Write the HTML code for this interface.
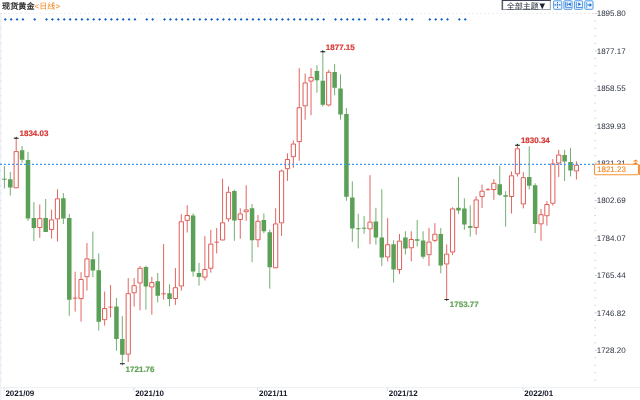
<!DOCTYPE html>
<html lang="zh"><head><meta charset="utf-8"><title>现货黄金 日线</title>
<style>html,body{margin:0;padding:0;background:#fff;overflow:hidden}svg{display:block}text{text-rendering:geometricPrecision;font-family:"Liberation Sans","Noto Sans CJK SC",sans-serif}.ax{font-size:8px;fill:#2b3040}.xl{font-size:8px;font-weight:bold;fill:#15182a}.mk{font-size:8px;font-weight:bold;stroke-width:0.2px}</style></head><body>
<svg width="640" height="400" viewBox="0 0 640 400">
<rect width="640" height="400" fill="#fff"/>
<text x="2.1" y="9.4" font-size="8.1" fill="#1c1c1c" stroke="#1c1c1c" stroke-width="0.25">现货黄金<tspan fill="#f5861f" stroke="none">&lt;日线&gt;</tspan></text>
<path d="M0 13.5H595" stroke="#e8ebef" stroke-width="0.8" stroke-dasharray="2 2" fill="none"/>
<path d="M594.6 13.50h2.8M594.5 20.98h1.5M594.5 28.47h1.5M594.5 35.95h1.5M594.5 43.44h1.5M594.6 50.92h2.8M594.5 58.40h1.5M594.5 65.89h1.5M594.5 73.37h1.5M594.5 80.86h1.5M594.6 88.34h2.8M594.5 95.82h1.5M594.5 103.31h1.5M594.5 110.79h1.5M594.5 118.28h1.5M594.6 125.76h2.8M594.5 133.24h1.5M594.5 140.73h1.5M594.5 148.21h1.5M594.5 155.70h1.5M594.6 163.18h2.8M594.5 170.66h1.5M594.5 178.15h1.5M594.5 185.63h1.5M594.5 193.12h1.5M594.6 200.60h2.8M594.5 208.08h1.5M594.5 215.57h1.5M594.5 223.05h1.5M594.5 230.54h1.5M594.6 238.02h2.8M594.5 245.50h1.5M594.5 252.99h1.5M594.5 260.47h1.5M594.5 267.96h1.5M594.6 275.44h2.8M594.5 282.92h1.5M594.5 290.41h1.5M594.5 297.89h1.5M594.5 305.38h1.5M594.6 312.86h2.8M594.5 320.34h1.5M594.5 327.83h1.5M594.5 335.31h1.5M594.5 342.80h1.5M594.6 350.28h2.8M594.5 357.76h1.5M594.5 365.25h1.5M594.5 372.73h1.5M594.5 380.22h1.5" stroke="#cdd1da" stroke-width="1" fill="none"/>
<rect x="0" y="13" width="1.4" height="387" fill="#eef2f9"/>
<path d="M0 13.50h1.3M0 20.98h1.3M0 28.47h1.3M0 35.95h1.3M0 43.44h1.3M0 50.92h1.3M0 58.40h1.3M0 65.89h1.3M0 73.37h1.3M0 80.86h1.3M0 88.34h1.3M0 95.82h1.3M0 103.31h1.3M0 110.79h1.3M0 118.28h1.3M0 125.76h1.3M0 133.24h1.3M0 140.73h1.3M0 148.21h1.3M0 155.70h1.3M0 163.18h1.3M0 170.66h1.3M0 178.15h1.3M0 185.63h1.3M0 193.12h1.3M0 200.60h1.3M0 208.08h1.3M0 215.57h1.3M0 223.05h1.3M0 230.54h1.3M0 238.02h1.3M0 245.50h1.3M0 252.99h1.3M0 260.47h1.3M0 267.96h1.3M0 275.44h1.3M0 282.92h1.3M0 290.41h1.3M0 297.89h1.3M0 305.38h1.3M0 312.86h1.3M0 320.34h1.3M0 327.83h1.3M0 335.31h1.3M0 342.80h1.3M0 350.28h1.3M0 357.76h1.3M0 365.25h1.3M0 372.73h1.3M0 380.22h1.3" stroke="#d9deea" stroke-width="1" fill="none"/>
<text class="ax" x="596.7" y="16.25">1895.80</text>
<text class="ax" x="596.7" y="53.67">1877.17</text>
<text class="ax" x="596.7" y="91.09">1858.55</text>
<text class="ax" x="596.7" y="128.51">1839.93</text>
<text class="ax" x="596.7" y="165.93">1821.31</text>
<text class="ax" x="596.7" y="203.35">1802.69</text>
<text class="ax" x="596.7" y="240.77">1784.07</text>
<text class="ax" x="596.7" y="278.19">1765.44</text>
<text class="ax" x="596.7" y="315.61">1746.82</text>
<text class="ax" x="596.7" y="353.03">1728.20</text>
<path d="M5.25 17.95l1.45 1.45l-1.45 1.45l-1.45 -1.45zM11.15 17.95l1.45 1.45l-1.45 1.45l-1.45 -1.45zM17.04 17.95l1.45 1.45l-1.45 1.45l-1.45 -1.45zM22.94 17.95l1.45 1.45l-1.45 1.45l-1.45 -1.45zM34.73 17.95l1.45 1.45l-1.45 1.45l-1.45 -1.45zM46.53 17.95l1.45 1.45l-1.45 1.45l-1.45 -1.45zM52.43 17.95l1.45 1.45l-1.45 1.45l-1.45 -1.45zM58.32 17.95l1.45 1.45l-1.45 1.45l-1.45 -1.45zM64.22 17.95l1.45 1.45l-1.45 1.45l-1.45 -1.45zM70.12 17.95l1.45 1.45l-1.45 1.45l-1.45 -1.45zM76.01 17.95l1.45 1.45l-1.45 1.45l-1.45 -1.45zM81.91 17.95l1.45 1.45l-1.45 1.45l-1.45 -1.45zM87.81 17.95l1.45 1.45l-1.45 1.45l-1.45 -1.45zM93.70 17.95l1.45 1.45l-1.45 1.45l-1.45 -1.45zM99.60 17.95l1.45 1.45l-1.45 1.45l-1.45 -1.45zM105.50 17.95l1.45 1.45l-1.45 1.45l-1.45 -1.45zM111.40 17.95l1.45 1.45l-1.45 1.45l-1.45 -1.45zM117.29 17.95l1.45 1.45l-1.45 1.45l-1.45 -1.45zM123.19 17.95l1.45 1.45l-1.45 1.45l-1.45 -1.45zM129.09 17.95l1.45 1.45l-1.45 1.45l-1.45 -1.45zM134.98 17.95l1.45 1.45l-1.45 1.45l-1.45 -1.45zM146.78 17.95l1.45 1.45l-1.45 1.45l-1.45 -1.45zM152.68 17.95l1.45 1.45l-1.45 1.45l-1.45 -1.45zM164.47 17.95l1.45 1.45l-1.45 1.45l-1.45 -1.45zM170.37 17.95l1.45 1.45l-1.45 1.45l-1.45 -1.45zM176.26 17.95l1.45 1.45l-1.45 1.45l-1.45 -1.45zM182.16 17.95l1.45 1.45l-1.45 1.45l-1.45 -1.45zM188.06 17.95l1.45 1.45l-1.45 1.45l-1.45 -1.45zM193.95 17.95l1.45 1.45l-1.45 1.45l-1.45 -1.45zM199.85 17.95l1.45 1.45l-1.45 1.45l-1.45 -1.45zM205.75 17.95l1.45 1.45l-1.45 1.45l-1.45 -1.45zM211.65 17.95l1.45 1.45l-1.45 1.45l-1.45 -1.45zM217.54 17.95l1.45 1.45l-1.45 1.45l-1.45 -1.45zM223.44 17.95l1.45 1.45l-1.45 1.45l-1.45 -1.45zM229.34 17.95l1.45 1.45l-1.45 1.45l-1.45 -1.45zM235.23 17.95l1.45 1.45l-1.45 1.45l-1.45 -1.45zM241.13 17.95l1.45 1.45l-1.45 1.45l-1.45 -1.45zM247.03 17.95l1.45 1.45l-1.45 1.45l-1.45 -1.45zM252.92 17.95l1.45 1.45l-1.45 1.45l-1.45 -1.45zM258.82 17.95l1.45 1.45l-1.45 1.45l-1.45 -1.45zM264.72 17.95l1.45 1.45l-1.45 1.45l-1.45 -1.45zM270.62 17.95l1.45 1.45l-1.45 1.45l-1.45 -1.45zM276.51 17.95l1.45 1.45l-1.45 1.45l-1.45 -1.45zM282.41 17.95l1.45 1.45l-1.45 1.45l-1.45 -1.45zM288.31 17.95l1.45 1.45l-1.45 1.45l-1.45 -1.45zM294.20 17.95l1.45 1.45l-1.45 1.45l-1.45 -1.45zM300.10 17.95l1.45 1.45l-1.45 1.45l-1.45 -1.45zM306.00 17.95l1.45 1.45l-1.45 1.45l-1.45 -1.45zM311.89 17.95l1.45 1.45l-1.45 1.45l-1.45 -1.45zM317.79 17.95l1.45 1.45l-1.45 1.45l-1.45 -1.45zM323.69 17.95l1.45 1.45l-1.45 1.45l-1.45 -1.45zM335.48 17.95l1.45 1.45l-1.45 1.45l-1.45 -1.45zM341.38 17.95l1.45 1.45l-1.45 1.45l-1.45 -1.45zM347.28 17.95l1.45 1.45l-1.45 1.45l-1.45 -1.45zM353.17 17.95l1.45 1.45l-1.45 1.45l-1.45 -1.45zM359.07 17.95l1.45 1.45l-1.45 1.45l-1.45 -1.45zM364.97 17.95l1.45 1.45l-1.45 1.45l-1.45 -1.45zM376.76 17.95l1.45 1.45l-1.45 1.45l-1.45 -1.45zM382.66 17.95l1.45 1.45l-1.45 1.45l-1.45 -1.45zM388.56 17.95l1.45 1.45l-1.45 1.45l-1.45 -1.45zM400.35 17.95l1.45 1.45l-1.45 1.45l-1.45 -1.45zM406.25 17.95l1.45 1.45l-1.45 1.45l-1.45 -1.45zM412.14 17.95l1.45 1.45l-1.45 1.45l-1.45 -1.45zM429.83 17.95l1.45 1.45l-1.45 1.45l-1.45 -1.45zM435.73 17.95l1.45 1.45l-1.45 1.45l-1.45 -1.45zM441.63 17.95l1.45 1.45l-1.45 1.45l-1.45 -1.45zM447.53 17.95l1.45 1.45l-1.45 1.45l-1.45 -1.45zM459.32 17.95l1.45 1.45l-1.45 1.45l-1.45 -1.45zM465.22 17.95l1.45 1.45l-1.45 1.45l-1.45 -1.45z" fill="#0f60c2"/>
<path d="M0 387.7H640" stroke="#e9eef1" stroke-width="1" fill="none"/>
<path d="M4.10 387.7v3.2" stroke="#d5dbe6" stroke-width="1"/>
<text class="xl" x="5.40" y="396.1">2021/09</text>
<path d="M133.83 387.7v3.2" stroke="#d5dbe6" stroke-width="1"/>
<text class="xl" x="135.13" y="396.1">2021/10</text>
<path d="M257.67 387.7v3.2" stroke="#d5dbe6" stroke-width="1"/>
<text class="xl" x="258.97" y="396.1">2021/11</text>
<path d="M387.40 387.7v3.2" stroke="#d5dbe6" stroke-width="1"/>
<text class="xl" x="388.70" y="396.1">2021/12</text>
<path d="M523.04 387.7v3.2" stroke="#d5dbe6" stroke-width="1"/>
<text class="xl" x="524.34" y="396.1">2022/01</text>
<path d="M4.40 166.00V188.50M10.30 171.90V195.60M22.09 146.00V162.80M27.99 151.90V221.00M33.88 202.20V241.00M45.68 199.00V231.90M63.37 193.10V224.00M69.27 213.90V315.80M92.86 231.60V277.20M98.75 253.40V330.60M116.44 298.00V350.70M122.34 316.20V363.60M145.93 265.80V309.70M157.72 273.00V302.40M169.52 284.40V306.30M193.10 213.40V276.60M199.00 262.80V285.60M234.38 189.70V240.80M252.07 204.00V262.20M263.87 213.40V233.30M269.76 229.70V288.60M316.94 65.20V92.75M322.84 51.10V106.50M334.63 64.05V95.25M340.53 74.25V119.75M346.43 108.10V200.75M352.32 181.40V241.90M358.22 213.75V248.40M364.12 216.10V233.75M375.91 207.80V244.70M381.81 189.20V266.10M393.60 240.30V282.50M405.40 231.25V254.60M417.19 220.00V246.60M423.09 231.25V258.75M440.78 228.00V273.40M458.47 176.90V213.90M464.37 198.30V229.80M470.26 205.30V236.60M499.75 165.90V196.00M505.64 191.25V226.80M529.23 146.30V189.40M535.13 183.25V233.00M564.62 149.80V181.10M570.51 147.80V176.40" stroke="#5aa056" stroke-width="0.85" fill="none"/>
<path d="M2.15 178.70h4.5v1h-4.5zM8.05 179.20h4.5V187.50h-4.5zM19.84 150.30h4.5V159.70h-4.5zM25.74 160.00h4.5V218.60h-4.5zM31.63 218.10h4.5V228.00h-4.5zM43.43 218.10h4.5V231.90h-4.5zM61.12 198.30h4.5V218.60h-4.5zM67.02 218.10h4.5V299.70h-4.5zM90.61 259.20h4.5V270.60h-4.5zM96.50 270.20h4.5V321.70h-4.5zM114.19 306.40h4.5V339.00h-4.5zM120.09 339.10h4.5V354.70h-4.5zM143.68 266.90h4.5V286.60h-4.5zM155.47 281.20h4.5V295.80h-4.5zM167.27 293.20h4.5V298.90h-4.5zM190.85 215.50h4.5V271.60h-4.5zM196.75 273.10h4.5V276.90h-4.5zM232.13 191.00h4.5V220.50h-4.5zM249.82 208.30h4.5V240.30h-4.5zM261.62 220.00h4.5V231.25h-4.5zM267.51 232.20h4.5V267.20h-4.5zM314.69 71.10h4.5V80.35h-4.5zM320.59 80.85h4.5V104.70h-4.5zM332.38 71.95h4.5V87.75h-4.5zM338.28 88.40h4.5V114.45h-4.5zM344.18 113.90h4.5V196.65h-4.5zM350.07 197.40h4.5V228.60h-4.5zM355.97 228.25h4.5v1h-4.5zM361.87 227.80h4.5v1h-4.5zM373.66 221.60h4.5V237.50h-4.5zM379.56 237.50h4.5V257.50h-4.5zM391.35 244.20h4.5V269.50h-4.5zM403.15 237.50h4.5V248.50h-4.5zM414.94 239.20h4.5V240.70h-4.5zM420.84 240.60h4.5V256.70h-4.5zM438.53 234.10h4.5V265.60h-4.5zM456.22 207.70h4.5V210.50h-4.5zM462.12 208.40h4.5V224.50h-4.5zM468.01 226.10h4.5V227.70h-4.5zM497.50 184.20h4.5V194.70h-4.5zM503.39 195.20h4.5V196.80h-4.5zM526.98 177.00h4.5V185.65h-4.5zM532.88 185.15h4.5V223.90h-4.5zM562.37 155.00h4.5V161.60h-4.5zM568.26 162.00h4.5V170.60h-4.5z" fill="#5aa056"/>
<path d="M16.19 138.60V151.10M39.78 204.50V218.10M39.78 228.00V237.80M51.58 209.70V219.40M51.58 230.00V238.60M57.47 189.20V198.30M57.47 219.40V241.60M75.16 271.70V311.60M72.91 298.10h4.5M81.06 272.20V279.00M81.06 299.10V321.70M86.96 243.10V258.40M86.96 277.20V290.50M104.65 291.60V308.00M104.65 320.20V325.60M110.55 285.00V317.50M108.30 307.10h4.5M128.24 278.10V293.20M128.24 354.70V362.00M134.13 278.10V285.20M134.13 293.30V306.50M140.03 266.00V267.80M140.03 283.50V310.40M151.83 276.80V282.10M151.83 287.50V314.70M163.62 243.90V299.70M161.37 293.80h4.5M175.41 268.00V287.20M175.41 299.00V304.90M181.31 214.20V221.25M181.31 286.50V290.60M187.21 205.20V215.00M187.21 220.90V232.50M204.90 236.10V269.00M204.90 277.70V280.50M210.80 229.80V243.60M210.80 268.75V272.70M216.69 228.00V253.40M214.44 242.20h4.5M222.59 178.75V222.30M228.49 186.40V191.80M228.49 219.40V221.70M240.28 208.30V213.40M240.28 220.00V238.75M246.18 185.30V209.40M246.18 212.20V220.80M257.97 215.00V220.80M257.97 240.30V247.30M275.66 208.30V223.40M281.56 169.50V170.50M281.56 223.40V235.90M287.46 153.30V159.00M287.46 169.20V180.90M293.35 140.50V143.50M293.35 157.20V167.80M299.25 68.20V107.20M299.25 142.10V160.80M305.15 73.50V82.40M305.15 106.40V119.75M311.04 68.20V76.90M311.04 81.60V115.20M328.74 69.85V71.75M328.74 105.50V106.40M370.01 175.20V221.60M370.01 229.40V244.20M387.70 218.10V244.20M387.70 257.50V261.40M399.50 234.00V240.60M399.50 270.00V273.90M411.29 231.25V239.00M411.29 248.30V261.40M428.98 227.90V241.50M428.98 255.20V266.10M434.88 223.20V233.70M434.88 240.85V242.20M446.68 244.40V253.60M446.68 264.50V298.90M452.57 207.30V208.40M452.57 252.50V255.20M476.16 196.25V199.40M476.16 228.00V234.70M482.06 184.70V190.70M482.06 197.00V208.10M487.95 188.00V190.50M485.70 189.70h4.5M493.85 179.20V182.80M493.85 190.00V199.80M511.54 171.40V175.30M511.54 197.00V213.50M517.44 145.60V148.30M517.44 174.25V176.50M523.34 172.20V177.20M523.34 204.45V208.40M541.03 209.00V214.20M541.03 224.40V240.80M546.92 201.25V204.00M546.92 216.25V225.60M552.82 159.20V163.40M552.82 203.75V205.60M558.72 149.80V154.50M558.72 163.60V176.90M576.41 161.25V164.70M576.41 171.40V179.50" stroke="#dc4a44" stroke-width="0.85" fill="none"/>
<path d="M14.09 151.60h4.2V187.80h-4.2zM37.68 218.60h4.2V227.50h-4.2zM49.48 219.90h4.2V229.50h-4.2zM55.37 198.80h4.2V218.90h-4.2zM78.96 279.50h4.2V298.60h-4.2zM84.86 258.90h4.2V276.70h-4.2zM102.55 308.50h4.2V319.70h-4.2zM126.14 293.70h4.2V354.20h-4.2zM132.03 285.70h4.2V292.80h-4.2zM137.93 268.30h4.2V283.00h-4.2zM149.73 282.60h4.2V287.00h-4.2zM173.31 287.70h4.2V298.50h-4.2zM179.21 221.75h4.2V286.00h-4.2zM185.11 215.50h4.2V220.40h-4.2zM202.80 269.50h4.2V277.20h-4.2zM208.70 244.10h4.2V268.25h-4.2zM220.49 222.80h4.2V240.00h-4.2zM226.39 192.30h4.2V218.90h-4.2zM238.18 213.90h4.2V219.50h-4.2zM244.08 209.90h4.2V211.70h-4.2zM255.87 221.30h4.2V239.80h-4.2zM273.56 223.90h4.2V267.80h-4.2zM279.46 171.00h4.2V222.90h-4.2zM285.36 159.50h4.2V168.70h-4.2zM291.25 144.00h4.2V156.70h-4.2zM297.15 107.70h4.2V141.60h-4.2zM303.05 82.90h4.2V105.90h-4.2zM308.94 77.40h4.2V81.10h-4.2zM326.63 72.25h4.2V105.00h-4.2zM367.91 222.10h4.2V228.90h-4.2zM385.60 244.70h4.2V257.00h-4.2zM397.40 241.10h4.2V269.50h-4.2zM409.19 239.50h4.2V247.80h-4.2zM426.88 242.00h4.2V254.70h-4.2zM432.78 234.20h4.2V240.35h-4.2zM444.57 254.10h4.2V264.00h-4.2zM450.47 208.90h4.2V252.00h-4.2zM474.06 199.90h4.2V227.50h-4.2zM479.96 191.20h4.2V196.50h-4.2zM491.75 183.30h4.2V189.50h-4.2zM509.44 175.80h4.2V196.50h-4.2zM515.34 148.80h4.2V173.75h-4.2zM521.24 177.70h4.2V203.95h-4.2zM538.93 214.70h4.2V223.90h-4.2zM544.82 204.50h4.2V215.75h-4.2zM550.72 163.90h4.2V203.25h-4.2zM556.62 155.00h4.2V163.10h-4.2zM574.31 165.20h4.2V170.90h-4.2z" stroke="#dc4a44" stroke-width="0.9" fill="#fff"/>
<path d="M0 164.3H594" stroke="#3f97f2" stroke-width="1.2" stroke-dasharray="2 2" fill="none"/>
<path d="M13.79 137.85h4.8v0.9h-4.8zM15.29 137.90l0.9 -1.3l0.9 1.3z" fill="#111"/>
<text class="mk" x="19.50" y="136.20" fill="#d93a36" stroke="#d93a36">1834.03</text>
<path d="M320.44 51.35h4.8v0.9h-4.8zM321.94 51.40l0.9 -1.3l0.9 1.3z" fill="#111"/>
<text class="mk" x="325.80" y="49.60" fill="#d93a36" stroke="#d93a36">1877.15</text>
<path d="M515.04 144.85h4.8v0.9h-4.8zM516.54 144.90l0.9 -1.3l0.9 1.3z" fill="#111"/>
<text class="mk" x="520.90" y="143.10" fill="#d93a36" stroke="#d93a36">1830.34</text>
<path d="M119.94 363.25h4.8v0.9h-4.8zM121.44 364.10l0.9 1.3l0.9 -1.3z" fill="#111"/>
<text class="mk" x="125.60" y="371.70" fill="#62a356" stroke="#62a356">1721.76</text>
<path d="M444.28 298.95h4.8v0.9h-4.8zM445.78 299.80l0.9 1.3l0.9 -1.3z" fill="#111"/>
<text class="mk" x="449.80" y="306.80" fill="#62a356" stroke="#62a356">1753.77</text>
<rect x="594.5" y="164.2" width="44" height="10.6" rx="1.2" fill="#fff" stroke="#f6923a" stroke-width="1.1"/>
<path d="M639.6 164.5v10.6" stroke="#f58a2c" stroke-width="1"/>
<text x="597" y="172.2" font-size="8" fill="#f5861f" stroke="#f5861f" stroke-width="0.1">1821.23</text>
<path d="M633 161.6l2.6 -2.1l2.6 2.1zM633 164.2l2.6 -2.1l2.6 2.1z" fill="#f5821f"/>
<rect x="502.7" y="0.4" width="47.6" height="9.1" fill="#fff" stroke="#9aa0aa" stroke-width="1"/>
<path d="M502.2 9.9V0.4H550.8" stroke="#3b4256" stroke-width="1.1" fill="none"/>
<text x="506.8" y="8.8" font-size="8" fill="#1d2233">全部主题<tspan font-size="9.6" dx="-1.2" dy="0.3">▼</tspan></text>
<rect x="553.60" y="0.8" width="8.2" height="8.5" rx="0.8" fill="#f1f7fe" stroke="#4f99e6" stroke-width="1"/>
<path d="M557 2h0.9v1.4h-0.9zM557 4.1h0.9v1.6h-0.9zM557 6.5h0.9v1.4h-0.9zM554.5 4.3h1.8v1.1h-1.8zM558.7 4.3h1.8v1.1h-1.8z" fill="#1a6fd0"/>
<rect x="563.90" y="0.8" width="8.2" height="8.5" rx="0.8" fill="#f1f7fe" stroke="#4f99e6" stroke-width="1"/>
<path d="M565.6 2V7.4H571.6" stroke="#3a86de" stroke-width="0.9" fill="none"/>
<path d="M566.7 2.6h0.9v3.4h-0.9zM567.7 4.3L570.8 2.6V6z" fill="#1a6fd0"/>
<rect x="574.40" y="0.8" width="8.2" height="8.5" rx="0.8" fill="#f1f7fe" stroke="#4f99e6" stroke-width="1"/>
<path d="M576.3 2V7.5H582" stroke="#3a86de" stroke-width="0.9" fill="none"/>
<path d="M578.1 2.5V6.1L581.3 4.3z" fill="#1a6fd0"/>
<rect x="584.80" y="0.8" width="8.2" height="8.5" rx="0.8" fill="#f1f7fe" stroke="#4f99e6" stroke-width="1"/>
<path d="M586.7 2V8.2" stroke="#5fa4ea" stroke-width="0.9" fill="none"/>
<path d="M587.3 4.4h2.3v-1.3l2.4 1.9l-2.4 1.9v-1.3h-2.3z" fill="#1a6fd0"/>
</svg></body></html>
